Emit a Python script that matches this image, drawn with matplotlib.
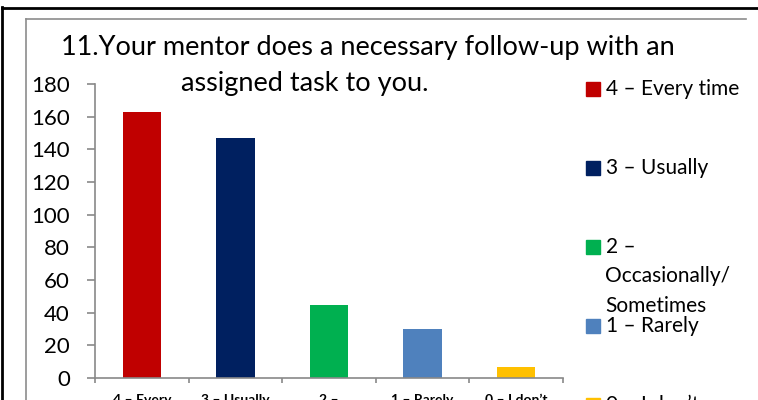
import matplotlib
matplotlib.use("Agg")
import matplotlib.pyplot as plt
from matplotlib.lines import Line2D
from matplotlib.patches import Rectangle

categories = ["4 – Every\ntime", "3 – Usually", "2 –\nOccasionally/\nSometimes", "1 – Rarely", "0 – I don’t\nknow"]
legend_labels = ["4 – Every time", "3 – Usually", "2 –\nOccasionally/\nSometimes", "1 – Rarely", "0 – I don’t\nknow"]
values = [163, 147, 45, 30, 7]
colors = ["#C00000", "#002060", "#00B050", "#4F81BD", "#FFC000"]
yticks = [0, 20, 40, 60, 80, 100, 120, 140, 160, 180]
title1 = "11.Your mentor does a necessary follow-up with an"
title2 = "assigned task to you."

W, H = 758, 400
plt.rcParams['font.family'] = ['Lato', 'DejaVu Sans']
fig = plt.figure(figsize=(W / 100, H / 100), dpi=100)

def fx(x): return x / W
def fy(y): return 1 - y / H

# frames
fig.add_artist(Line2D([fx(1.5), fx(1.5)], [fy(7), 0], color="black", lw=2.0))
fig.add_artist(Line2D([fx(1.5), 1], [fy(7.5), fy(7.5)], color="black", lw=2.0))
fig.add_artist(Line2D([fx(25.5), fx(25.5)], [fy(18.5), 0], color="#8c8c8c", lw=1.2))
fig.add_artist(Line2D([fx(25.5), fx(746)], [fy(18.5), fy(18.5)], color="#8c8c8c", lw=1.2))

ax = fig.add_axes([fx(95), fy(378), fx(563) - fx(95), (378 - 84) / H])
x = list(range(len(values)))
ax.bar(x, values, width=0.41, color=colors)
ax.set_xlim(-0.5, len(values) - 0.5)
ax.set_ylim(0, 180)
ax.set_yticks(yticks)
ax.set_yticklabels([str(v) for v in yticks], fontsize=16)
ax.set_xticks([i - 0.5 for i in range(len(values) + 1)], minor=False)
ax.set_xticklabels([])
ax.set_xticks(x, minor=True)
ax.set_xticklabels(categories, minor=True, fontsize=10, fontweight="bold", va="top")
ax.tick_params(axis="x", which="minor", length=0, pad=11.5)
ax.tick_params(axis="x", which="major", length=3.5, color="#898989", width=1.2, direction="out")
ax.tick_params(axis="y", length=6, color="#898989", width=1.2, pad=12)
for s in ["top", "right"]:
    ax.spines[s].set_visible(False)
for s in ["left", "bottom"]:
    ax.spines[s].set_color("#898989")
    ax.spines[s].set_linewidth(1.2)

fig.text(fx(368), fy(47), title1, fontsize=19.5, ha="center", va="center")
fig.text(fx(305), fy(83), title2, fontsize=19.5, ha="center", va="center")

# legend
leg_y = [89, 168, 247, 326, 405]
for lab, col, yy in zip(legend_labels, colors, leg_y):
    fig.add_artist(Rectangle((fx(586), fy(yy + 7)), 14 / W, 14 / H, color=col))
    for i, line in enumerate(lab.split("\n")):
        fig.text(fx(605.5), fy(yy + i * 29.5), line, fontsize=15, ha="left", va="center")

fig.savefig("out.png", dpi=100)
